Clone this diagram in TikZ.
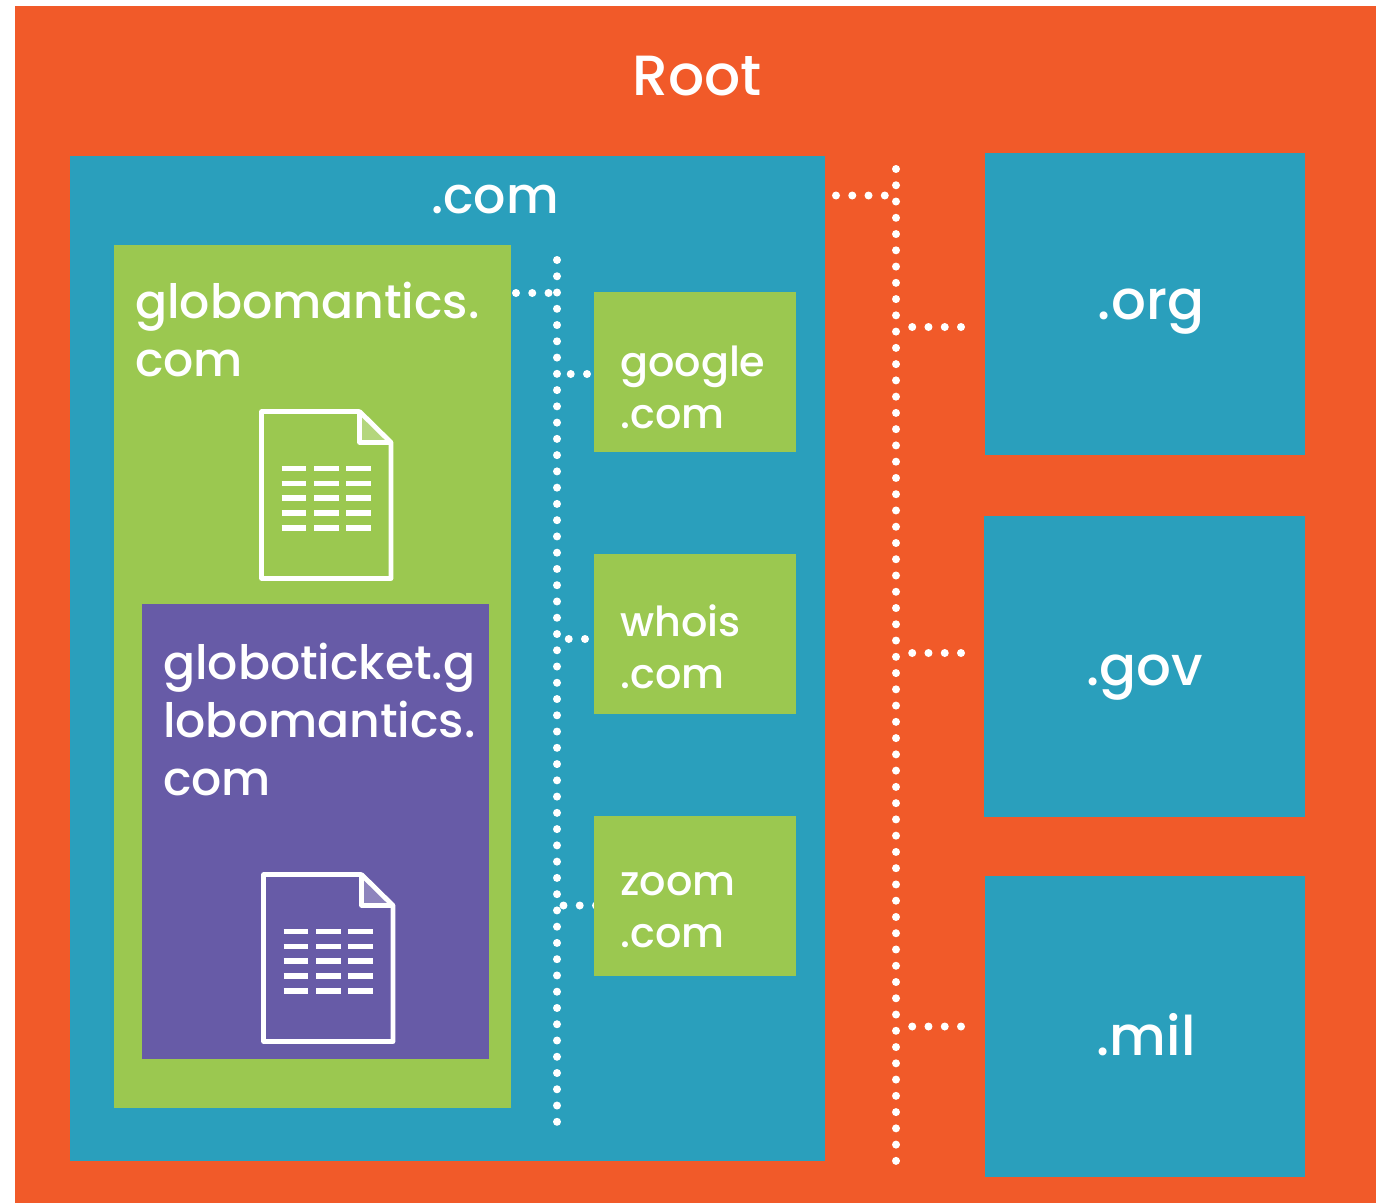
\documentclass[tikz,border=0pt]{standalone}
\usepackage{fontspec}
\setmainfont{Poppins Medium}
\usepackage{tikz}
\definecolor{rootorange}{HTML}{F15A29}
\definecolor{zoneteal}{HTML}{2A9FBC}
\definecolor{domaingreen}{HTML}{9BC850}
\definecolor{hostpurple}{HTML}{675BA7}
\tikzset{
x=0.75pt, y=-0.75pt,
zone/.style={anchor=north west, inner sep=0pt, outer sep=0pt}, % filled boxes
biglabel/.style={text=white, inner sep=0pt, anchor=base west, font=\fontsize{35.5}{43.5}\selectfont, align=left}, % large white text
toplabel/.style={biglabel, anchor=base, font=\fontsize{41}{48}\selectfont}, % zone names
smalllabel/.style={text=white, inner sep=0pt, anchor=base west, font=\fontsize{31}{38.3}\selectfont, align=left}, % small boxes
dotline/.style={draw=white, line width=6pt, line cap=round, dash pattern=on 0pt off 12.195pt},
docline/.style={draw=white, line width=3.6pt, line join=round},
rowline/.style={draw=white, line width=4pt},
pics/docicon/.style={code={
    \fill[#1] (98,0) -- (98,31) -- (129.5,31) -- cycle;
    \draw[docline] (98,0) -- (0,0) -- (0,167) -- (129.5,167) -- (129.5,31) -- (98,0) -- (98,31) -- (129.5,31);
    \foreach \row in {57,72,86.5,101.5,116.5} {
        \foreach \col in {20,52.5,84.5} {
            \draw[rowline] (\col,\row) -- ++(24.5,0);
        }
    }
}},
}
\newcommand{\boxat}[6]{\node[zone, fill=#2, minimum width=#5*0.75pt, minimum height=#6*0.75pt] (#1) at (#3,#4) {};}
\begin{document}
\begin{tikzpicture}
    \useasboundingbox (0,0) rectangle (1384,1203);
    % boxes, left top width height
    \boxat{root}{rootorange}{15}{6}{1361}{1197}
    \boxat{com}{zoneteal}{70}{156}{755}{1005}
    \boxat{org}{zoneteal}{985}{153}{320}{302}
    \boxat{gov}{zoneteal}{984}{516}{321}{301}
    \boxat{mil}{zoneteal}{985}{876}{320}{301}
    \boxat{globomantics}{domaingreen}{114}{245}{397}{863}
    \boxat{globoticket}{hostpurple}{142}{604}{347}{455}
    % dotted connectors
    \coordinate (outertop) at (896,169);
    \coordinate (outerbottom) at (896,1163);
    \coordinate (innertop) at (557,260);
    \coordinate (innerbottom) at (557,1124);
    \coordinate (comport) at (836,195.5);
    \coordinate (orgport) at (961,327);
    \coordinate (govport) at (961,653);
    \coordinate (milport) at (961,1026.5);
    \coordinate (globoport) at (516,293);
    \coordinate (googleport) at (587,374);
    \coordinate (whoisport) at (585,639);
    \coordinate (zoomport) at (596,905.5);
    \draw[dotline] (outertop) -- (outerbottom);
    \draw[dotline] (innertop) -- (innerbottom);
    \draw[dotline] (comport) -- (comport -| outertop);
    \draw[dotline] (orgport) -- (orgport -| outertop);
    \draw[dotline] (govport) -- (govport -| outertop);
    \draw[dotline] (milport) -- (milport -| outertop);
    \draw[dotline] (globoport) -- (globoport -| innertop);
    \draw[dotline] (googleport) -- (googleport -| innertop);
    \draw[dotline] (whoisport) -- (whoisport -| innertop);
    \draw[dotline] (zoomport) -- (zoomport -| innertop);
    % small boxes sit on the dots
    \boxat{google}{domaingreen}{594}{292}{202}{160}
    \boxat{whois}{domaingreen}{594}{554}{202}{160}
    \boxat{zoom}{domaingreen}{594}{816}{202}{160}
    % icons
    \pic at (261.5,411.5) {docicon={domaingreen!75!white}};
    \pic at (263.5,874.5) {docicon={hostpurple!75!white}};
    % labels
    \node[toplabel, font=\fontsize{42.5}{48}\selectfont] (rootlabel) at (697,95) {Root};
    \node[biglabel, font=\fontsize{38}{43.5}\selectfont] (comlabel) at (431,213) {.com};
    \node[biglabel] (globolabel) at (135,376.5) {globomantics.\\com};
    \node[biglabel] (ticketlabel) at (163,795) {globoticket.g\\lobomantics.\\com};
    \node[smalllabel] (googlelabel) at (620,428) {google\\.com};
    \node[smalllabel] (whoislabel) at (620,688) {whois\\.com};
    \node[smalllabel] (zoomlabel) at (620,947) {zoom\\.com};
    \node[toplabel] (orglabel) at (1151,319) {.org};
    \node[toplabel] (govlabel) at (1145,685) {.gov};
    \node[toplabel] (millabel) at (1146,1055) {.mil};
\end{tikzpicture}
\end{document}
